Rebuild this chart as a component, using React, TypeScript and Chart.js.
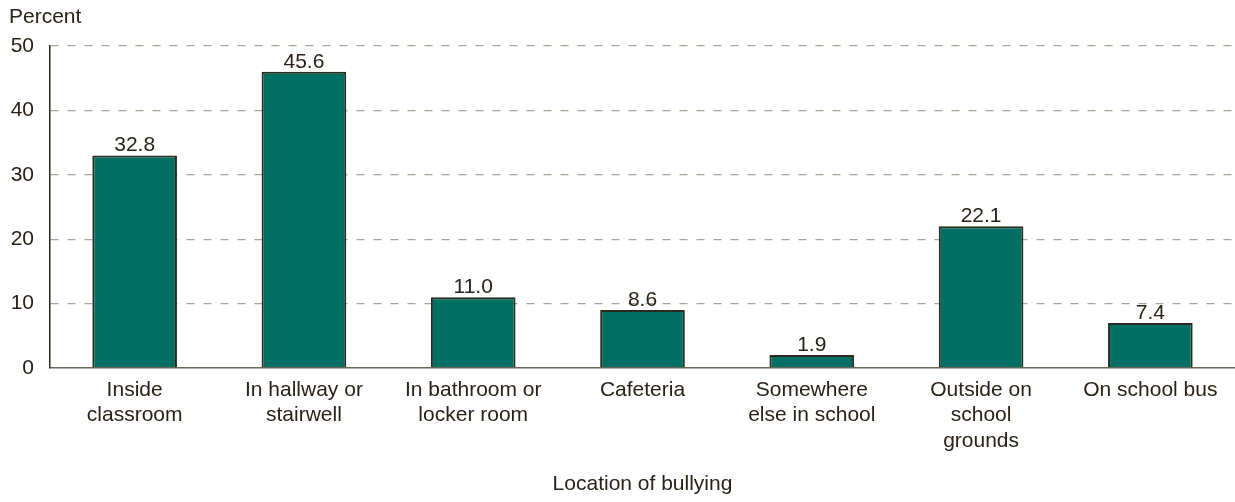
import React, { useEffect, useRef } from "react";
import { Chart, registerables } from "chart.js";

Chart.register(...registerables);

const categories: string[][] = [
  ["Inside", "classroom"],
  ["In hallway or", "stairwell"],
  ["In bathroom or", "locker room"],
  ["Cafeteria"],
  ["Somewhere", "else in school"],
  ["Outside on", "school", "grounds"],
  ["On school bus"],
];
// bar heights as drawn in the picture
const barHeights: number[] = [33, 46, 11, 9, 2, 22, 7];
// labels printed above the bars
const valueLabels: string[] = ["32.8", "45.6", "11.0", "8.6", "1.9", "22.1", "7.4"];
const yTicks: number[] = [0, 10, 20, 30, 40, 50];

const FONT = "'Liberation Sans', Arial, sans-serif";
const TEXT = "#2a2217";

export default function App() {
  const ref = useRef<HTMLCanvasElement | null>(null);
  useEffect(() => {
    if (!ref.current) return;
    const extra = {
      id: "extra",
      afterDatasetsDraw(chart: any) {
        const ctx = chart.ctx;
        const meta = chart.getDatasetMeta(0);
        ctx.save();
        ctx.fillStyle = TEXT;
        ctx.font = `21px ${FONT}`;
        ctx.textAlign = "center";
        ctx.textBaseline = "alphabetic";
        meta.data.forEach((bar: any, i: number) => {
          ctx.fillText(valueLabels[i], bar.x, bar.y - 4);
        });
        ctx.textAlign = "left";
        ctx.textBaseline = "middle";
        ctx.fillText("Percent", 9, 17);
        ctx.restore();
      },
    };
    const chart = new Chart(ref.current, {
      type: "bar",
      data: {
        labels: categories,
        datasets: [
          {
            data: barHeights,
            backgroundColor: "#006f63",
            borderColor: "#2c2a1e",
            borderWidth: 2,
            barPercentage: 0.5,
            categoryPercentage: 1,
          },
        ],
      },
      options: {
        animation: false,
        responsive: false,
        maintainAspectRatio: false,
        layout: { padding: { top: 46, right: 0, left: 0, bottom: 0 } },
        plugins: { legend: { display: false }, tooltip: { enabled: false }, title: { display: false } },
        scales: {
          x: {
            grid: { display: false, drawTicks: false },
            border: { display: true, color: "#6e665a", width: 1.5 },
            ticks: {
              color: TEXT,
              font: { family: FONT, size: 21, lineHeight: 1.22 },
              padding: 9,
              maxRotation: 0,
              autoSkip: false,
            },
            title: {
              display: true,
              text: "Location of bullying",
              color: TEXT,
              font: { family: FONT, size: 21 },
              padding: { top: 0, bottom: 5 },
            },
            afterFit(scale: any) {
              scale.height = 134;
            },
          },
          y: {
            min: 0,
            max: 50,
            afterBuildTicks(scale: any) {
              scale.ticks = yTicks.map((v) => ({ value: v }));
            },
            grid: {
              color: (c: any) => (c.tick && c.tick.value === 0 ? "rgba(0,0,0,0)" : "#a9a498"),
              lineWidth: 1.3,
              drawTicks: false,
            },
            border: { display: true, color: "#2c2418", width: 1.5, dash: [8, 9] as any },
            ticks: {
              color: TEXT,
              font: { family: FONT, size: 21 },
              padding: 16,
            },
            afterFit(scale: any) {
              scale.width = 50;
            },
          },
        },
      } as any,
      plugins: [extra],
    });
    return () => chart.destroy();
  }, []);
  return (
    <div style={{ position: "fixed", left: 0, top: 0, width: 1235, height: 502, background: "#fff" }}>
      <canvas ref={ref} width={1235} height={502} style={{ width: 1235, height: 502 }} />
    </div>
  );
}
